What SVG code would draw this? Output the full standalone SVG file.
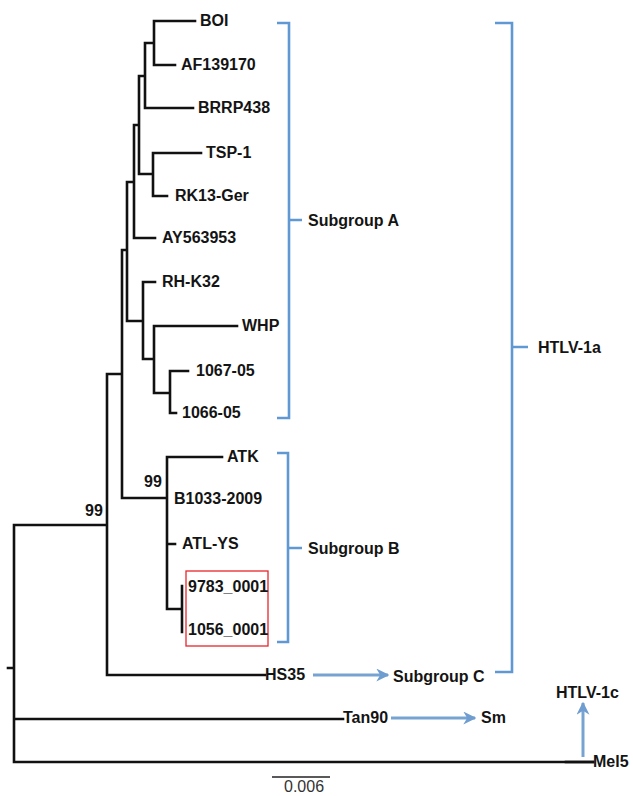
<svg xmlns="http://www.w3.org/2000/svg" width="633" height="796" viewBox="0 0 633 796">
<style>
.t{fill:none;stroke:#111;stroke-width:2.6;stroke-linecap:square}
.br{fill:none;stroke:#5f98d3;stroke-width:2.6}
.ar{fill:none;stroke:#77a3d2;stroke-width:3}
.lb{font-family:"Liberation Sans",Arial,sans-serif;font-weight:bold;font-size:16px;fill:#141414}
.sc{font-family:"Liberation Sans",Arial,sans-serif;font-size:16px;fill:#333}
</style>
<defs>
<marker id="ah" viewBox="0 0 10 10" refX="9" refY="5" markerWidth="13" markerHeight="13" orient="auto" markerUnits="userSpaceOnUse">
<path d="M0,0 L10,5 L0,10 L3,5 Z" fill="#6f9dd0"/>
</marker>
</defs>
<rect width="633" height="796" fill="#fff"/>
<g id="connectors">
<path class="t" d="M154,21H195M154,21V65H175M145,43H154M145,43V108H193M139,76H145M139,76V174H153M153,153H201M153,153V196H167M134,125H139M134,125V238H155M127,182H134M127,182V321H143M143,282H155M143,282V359H154M154,326H237M154,326V393H170M170,371H188M170,371V413H176M122,250H127M122,250V498H167M167,457H222M167,457V609H182M167,544H175M182,586V632M107,374H122M107,374V675H265M14,525H107M14,525V762H593M14,719H343M8,668H14"/>
<path class="t" d="M566,762H593" stroke-width="3.2"/>
<path d="M272,777H330" stroke="#222" stroke-width="1.3"/>
<path class="ar" d="M313,675H388" marker-end="url(#ah)"/>
<path class="ar" d="M391,718H475" marker-end="url(#ah)"/>
<path class="ar" d="M583,757V703" marker-end="url(#ah)"/>
</g>
<g id="bracket-subgroup-a"><path class="br" d="M277,23H289V418H277M289,220H302"/><text class="lb" x="308" y="226">Subgroup A</text></g>
<g id="bracket-subgroup-b"><path class="br" d="M277,453H288V642H277M288,548H302"/><text class="lb" x="308" y="554">Subgroup B</text></g>
<g id="bracket-htlv-1a"><path class="br" d="M495,23H512V672H495M512,347H528"/><text class="lb" x="538" y="353">HTLV-1a</text></g>
<g id="node-subgroup-c"><text class="lb" x="393" y="682">Subgroup C</text></g>
<g id="node-sm"><text class="lb" x="481" y="723">Sm</text></g>
<g id="node-htlv-1c"><text class="lb" x="556" y="698">HTLV-1c</text></g>
<g id="highlight"><rect x="186" y="571" width="82" height="75" fill="none" stroke="#e8262b" stroke-width="1.3"/></g>
<g id="node-BOI"><text class="lb" x="200" y="26">BOI</text></g>
<g id="node-AF139170"><text class="lb" x="181" y="70">AF139170</text></g>
<g id="node-BRRP438"><text class="lb" x="198" y="113">BRRP438</text></g>
<g id="node-TSP-1"><text class="lb" x="206" y="158">TSP-1</text></g>
<g id="node-RK13-Ger"><text class="lb" x="175" y="201">RK13-Ger</text></g>
<g id="node-AY563953"><text class="lb" x="162" y="243">AY563953</text></g>
<g id="node-RH-K32"><text class="lb" x="162" y="287">RH-K32</text></g>
<g id="node-WHP"><text class="lb" x="242" y="331">WHP</text></g>
<g id="node-1067-05"><text class="lb" x="196" y="376">1067-05</text></g>
<g id="node-1066-05"><text class="lb" x="182" y="418">1066-05</text></g>
<g id="node-ATK"><text class="lb" x="227" y="462">ATK</text></g>
<g id="node-B1033-2009"><text class="lb" x="174" y="504">B1033-2009</text></g>
<g id="node-ATL-YS"><text class="lb" x="182" y="549">ATL-YS</text></g>
<g id="node-9783_0001"><text class="lb" x="188" y="592">9783_0001</text></g>
<g id="node-1056_0001"><text class="lb" x="188" y="635">1056_0001</text></g>
<g id="node-HS35"><text class="lb" x="265" y="680">HS35</text></g>
<g id="node-Tan90"><text class="lb" x="343" y="723">Tan90</text></g>
<g id="node-Mel5"><text class="lb" x="593" y="767">Mel5</text></g>
<g id="bootstrap"><text class="lb" x="144" y="487">99</text><text class="lb" x="85" y="516">99</text></g>
<g id="scale"><text class="sc" x="284" y="792">0.006</text></g>
</svg>
